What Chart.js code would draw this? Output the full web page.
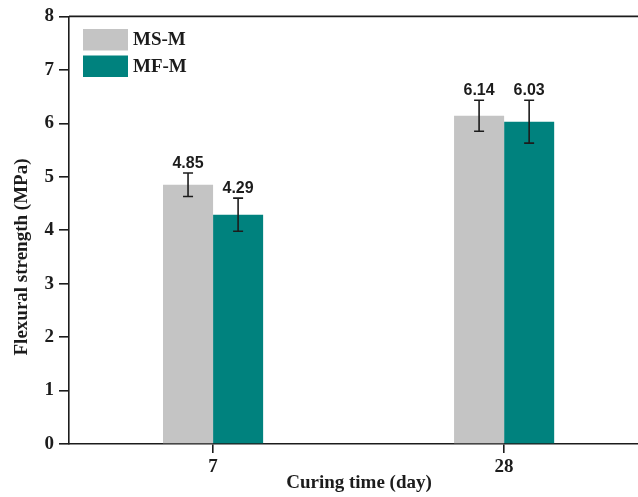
<!DOCTYPE html>
<html>
<head>
<meta charset="utf-8">
<script src="https://cdn.jsdelivr.net/npm/chart.js@4.4.1/dist/chart.umd.min.js"></script>
<style>
  html, body { margin: 0; padding: 0; background: #fff; }
  #wrap { width: 638px; height: 497px; position: relative; }
</style>
</head>
<body>
<div id="wrap"><canvas id="c" width="638" height="497"></canvas></div>
<script>
// Curing ages (days) shown on the x axis
const CURING_DAYS = ['7', '28'];
// Mean flexural strength (MPa) and standard deviation per mix
const MS_M = [4.85, 6.14];
const MS_M_ERR = [0.22, 0.29];
const MF_M = [4.29, 6.03];
const MF_M_ERR = [0.31, 0.40];
// Y axis ticks
const Y_TICKS = [0, 1, 2, 3, 4, 5, 6, 7, 8];

const SERIF = '"Liberation Serif", "Times New Roman", serif';
const SANS = '"Liberation Sans", Arial, sans-serif';
const INK = '#1c1c1c';

const series = [
  { label: 'MS-M', values: MS_M, err: MS_M_ERR, color: '#c4c4c4' },
  { label: 'MF-M', values: MF_M, err: MF_M_ERR, color: '#00827e' }
];

// Error bars with caps, plus the mean value written above each bar
const errorBars = {
  id: 'errorBars',
  afterDatasetsDraw(chart) {
    const ctx = chart.ctx;
    const y = chart.scales.y;
    chart.data.datasets.forEach((ds, di) => {
      const meta = chart.getDatasetMeta(di);
      meta.data.forEach((bar, i) => {
        const v = ds.data[i].y;
        const e = ds.errors[i];
        const top = y.getPixelForValue(v + e);
        const bot = y.getPixelForValue(v - e);
        const x = bar.x;
        ctx.save();
        ctx.strokeStyle = INK;
        ctx.lineWidth = 1.6;
        ctx.beginPath();
        ctx.moveTo(x, top); ctx.lineTo(x, bot);
        ctx.moveTo(x - 5, top); ctx.lineTo(x + 5, top);
        ctx.moveTo(x - 5, bot); ctx.lineTo(x + 5, bot);
        ctx.stroke();
        ctx.fillStyle = INK;
        ctx.font = 'bold 16px ' + SANS;
        ctx.textAlign = 'center';
        ctx.textBaseline = 'alphabetic';
        ctx.fillText(v.toFixed(2), x, top - 5);
        ctx.restore();
      });
    });
  }
};

// Frame top line, axis titles and the legend box
const decorations = {
  id: 'decorations',
  afterDraw(chart) {
    const ctx = chart.ctx;
    const a = chart.chartArea;
    ctx.save();
    ctx.strokeStyle = INK;
    ctx.lineWidth = 1.6;
    ctx.beginPath();
    ctx.moveTo(a.left, a.top);
    ctx.lineTo(a.right, a.top);
    ctx.stroke();

    ctx.fillStyle = INK;
    ctx.font = 'bold 19px ' + SERIF;
    ctx.textAlign = 'center';
    ctx.textBaseline = 'middle';
    ctx.fillText('Curing time (day)', 359, 483);

    ctx.save();
    ctx.translate(22, 257);
    ctx.rotate(-Math.PI / 2);
    ctx.fillText('Flexural strength (MPa)', 0, 0);
    ctx.restore();

    chart.data.datasets.forEach((ds, i) => {
      const top = 29 + i * 26.5;
      ctx.fillStyle = ds.backgroundColor;
      ctx.fillRect(83, top, 45, 21.5);
      ctx.fillStyle = INK;
      ctx.textAlign = 'left';
      ctx.textBaseline = 'middle';
      ctx.font = 'bold 19px ' + SERIF;
      ctx.fillText(ds.label, 133, top + 11.5);
    });
    ctx.restore();
  }
};

new Chart(document.getElementById('c'), {
  type: 'bar',
  data: {
    datasets: series.map(s => ({
      label: s.label,
      data: s.values.map((v, i) => ({ x: i, y: v })),
      errors: s.err,
      backgroundColor: s.color,
      borderWidth: 0,
      categoryPercentage: 0.344,
      barPercentage: 1.0
    }))
  },
  options: {
    responsive: false,
    animation: false,
    devicePixelRatio: 1,
    layout: { padding: { top: 16, right: 0, left: 0, bottom: 0 } },
    plugins: { legend: { display: false }, tooltip: { enabled: false } },
    scales: {
      x: {
        type: 'linear',
        offset: false,
        min: -0.495,
        max: 1.46,
        afterBuildTicks(axis) { axis.ticks = CURING_DAYS.map((_, i) => ({ value: i })); },
        afterFit(axis) { axis.height = 53; },
        ticks: {
          callback: (v) => CURING_DAYS[Math.round(v)],
          color: INK,
          font: { family: SERIF, size: 19, weight: 'bold' },
          padding: 3,
          maxRotation: 0
        },
        grid: { offset: false, drawOnChartArea: false, drawTicks: true, tickLength: 9, color: INK, lineWidth: 1.6 },
        border: { display: true, color: INK, width: 1.6 }
      },
      y: {
        min: 0,
        max: 8,
        afterBuildTicks(axis) { axis.ticks = Y_TICKS.map(v => ({ value: v })); },
        afterFit(axis) { axis.width = 69; },
        ticks: {
          color: INK,
          font: { family: SERIF, size: 19, weight: 'bold' },
          padding: 5
        },
        grid: { drawOnChartArea: false, drawTicks: true, tickLength: 10, color: INK, lineWidth: 1.6 },
        border: { display: true, color: INK, width: 1.6 }
      }
    }
  },
  plugins: [errorBars, decorations]
});
</script>
</body>
</html>
